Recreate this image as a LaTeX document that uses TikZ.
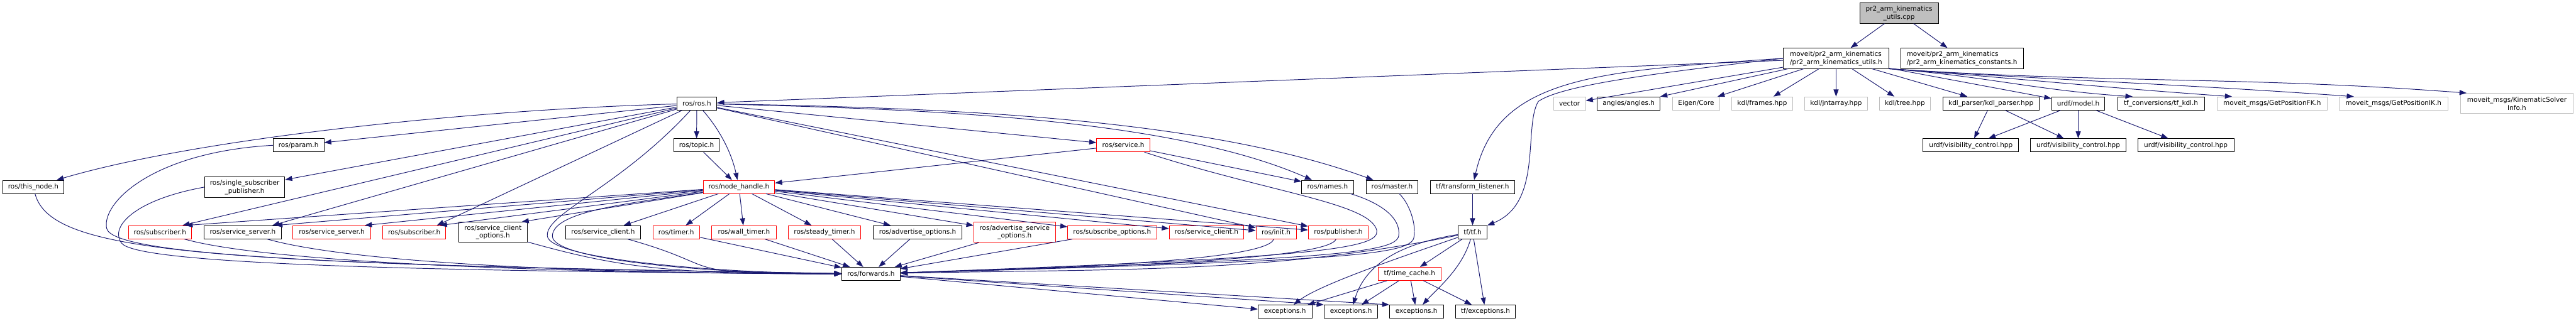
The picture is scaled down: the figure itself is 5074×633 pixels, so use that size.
\documentclass[tikz,border=0pt]{standalone}
\usepackage{fontspec}
\setmainfont{DejaVu Sans}
\usetikzlibrary{arrows.meta, calc}
\definecolor{edgeBlue}{RGB}{25,25,112}
\definecolor{truncRed}{RGB}{255,0,0}
\definecolor{extGray}{RGB}{191,191,191}
\definecolor{srcGray}{RGB}{191,191,191}
\definecolor{boxBlack}{RGB}{0,0,0}
\tikzset{
    hdr/.style={rectangle, draw=#1, fill=white, line width=1.1pt, inner sep=0pt,
                align=center, minimum height=26pt, font=\fontsize{13}{16}\selectfont},
    hdr/.default=boxBlack,
    tall/.style={minimum height=40pt},
    inc/.style={-{Triangle[length=14pt, width=10pt]}, line width=1.2pt, edgeBlue}
}

\begin{document}
\begin{tikzpicture}[x=1pt, y=-1pt]
    \useasboundingbox (0,0) rectangle (5074,633);
    % source file and the headers it includes
    \node[hdr, tall, fill=srcGray, minimum width=155pt] (cpp) at (3740.5,26) {pr2\_arm\_kinematics\\\_utils.cpp};
    \node[hdr, tall, align=left, minimum width=207pt] (utils) at (3616.5,115) {moveit/pr2\_arm\_kinematics\\/pr2\_arm\_kinematics\_utils.h};
    \node[hdr, tall, align=left, minimum width=241pt] (const) at (3864.5,115) {moveit/pr2\_arm\_kinematics\\/pr2\_arm\_kinematics\_constants.h};
    \foreach \nm/\lab/\col/\cx/\w in {
        ros/{ros/ros.h}/boxBlack/1372.5/79, vec/{vector}/extGray/3091.5/63,
        ang/{angles/angles.h}/boxBlack/3208/124, eig/{Eigen/Core}/extGray/3341/92,
        frm/{kdl/frames.hpp}/extGray/3471/120, jnt/{kdl/jntarray.hpp}/extGray/3616.5/123,
        tree/{kdl/tree.hpp}/extGray/3752/100, kdlp/{kdl\_parser/kdl\_parser.hpp}/boxBlack/3921.5/189,
        model/{urdf/model.h}/boxBlack/4093.5/105, tfkdl/{tf\_conversions/tf\_kdl.h}/boxBlack/4256.5/171,
        fk/{moveit\_msgs/GetPositionFK.h}/extGray/4475.5/217, ik/{moveit\_msgs/GetPositionIK.h}/extGray/4714.5/215} {
        \node[hdr=\col, minimum width=\w pt] (\nm) at (\cx,204) {\lab};
    }
    \node[hdr=extGray, tall, minimum width=221pt] (ksi) at (4957.5,204) {moveit\_msgs/KinematicSolver\\Info.h};
    \foreach \nm/\lab/\col/\cx/\w in {
        param/{ros/param.h}/boxBlack/588/100, topic/{ros/topic.h}/boxBlack/1372/90,
        svc/{ros/service.h}/truncRed/2212.5/105, visa/{urdf/visibility\_control.hpp}/boxBlack/3882/188,
        visb/{urdf/visibility\_control.hpp}/boxBlack/4093.5/189, visc/{urdf/visibility\_control.hpp}/boxBlack/4305.5/189} {
        \node[hdr=\col, minimum width=\w pt] (\nm) at (\cx,286.5) {\lab};
    }
    \foreach \nm/\lab/\col/\cx/\w in {
        tn/{ros/this\_node.h}/boxBlack/65.5/121, nh/{ros/node\_handle.h}/truncRed/1455.5/141,
        names/{ros/names.h}/boxBlack/2615/102, master/{ros/master.h}/boxBlack/2742/102,
        tl/{tf/transform\_listener.h}/boxBlack/2900.5/167} {
        \node[hdr=\col, minimum width=\w pt] (\nm) at (\cx,368.5) {\lab};
    }
    \node[hdr, tall, minimum width=158pt] (ssp) at (482,369) {ros/single\_subscriber\\\_publisher.h};
    \foreach \nm/\lab/\col/\cx/\w in {
        sub1/{ros/subscriber.h}/truncRed/315/124, ssb/{ros/service\_server.h}/boxBlack/478/152,
        ssr/{ros/service\_server.h}/truncRed/653.5/153, sub2/{ros/subscriber.h}/truncRed/816/124,
        scb/{ros/service\_client.h}/boxBlack/1188/148, timer/{ros/timer.h}/truncRed/1332/92,
        wall/{ros/wall\_timer.h}/truncRed/1465.5/127, steady/{ros/steady\_timer.h}/truncRed/1624/142,
        advo/{ros/advertise\_options.h}/boxBlack/1807.5/175, subo/{ros/subscribe\_options.h}/truncRed/2190.5/175,
        scr/{ros/service\_client.h}/truncRed/2376.5/147, init/{ros/init.h}/truncRed/2513.5/79,
        pub/{ros/publisher.h}/truncRed/2636/118, tf/{tf/tf.h}/boxBlack/2900.5/57} {
        \node[hdr=\col, minimum width=\w pt] (\nm) at (\cx,458) {\lab};
    }
    \node[hdr, tall, minimum width=136pt] (sco) at (971,458) {ros/service\_client\\\_options.h};
    \node[hdr=truncRed, tall, minimum width=161pt] (advso) at (1998.5,458) {ros/advertise\_service\\\_options.h};
    \node[hdr, minimum width=115pt] (fwd) at (1715.5,540) {ros/forwards.h};
    \node[hdr=truncRed, minimum width=123pt] (tc) at (2776.5,540) {tf/time\_cache.h};
    \foreach \nm/\lab/\cx/\w in {ex1/{exceptions.h}/2531/106, ex2/{exceptions.h}/2661/106,
        ex3/{exceptions.h}/2790/106, tfex/{tf/exceptions.h}/2926/118} {
        \node[hdr, minimum width=\w pt] (\nm) at (\cx,614.5) {\lab};
    }

    % includes of the source and of utils.h
    \draw[inc] (cpp) -- (utils);
    \draw[inc] (cpp) -- (const);
    \foreach \tgt in {ros,vec,ang,eig,frm,jnt,tree,kdlp,model}
        \draw[inc] (utils) -- (\tgt);
    \foreach \tgt/\dx/\ax/\ay/\bx/\by in {tfkdl/30/3910/150/4010/178, fk/30/3985/155/4130/172,
        ik/30/4080/160/4280/165, ksi/12/4160/165/4420/150}
        \draw[inc] (utils.south east) .. controls (\ax,\ay) and (\bx,\by) .. ([xshift=\dx pt]\tgt.north west);
    \draw[inc] (utils.west) .. controls (3150,140) and (2950,150) .. (tl);
    \draw[inc] (utils.west) .. controls (3300,140) and (3080,165) .. (3030,200)
        .. controls (3000,250) and (3040,400) .. (tf.north east);
    \foreach \tgt in {visa,visb}
        \draw[inc] (kdlp) -- (\tgt);
    \foreach \tgt in {visa,visb,visc}
        \draw[inc] (model) -- (\tgt);

    % ros.h
    \draw[inc] (ros) .. controls (950,215) and (400,270) .. (tn);
    \foreach \tgt in {param,ssp,topic,svc,init,pub}
        \draw[inc] (ros) -- (\tgt);
    \foreach \tgt in {sub1,sub2,ssb}
        \draw[inc] (ros) -- ([xshift=-18pt]\tgt.north east);
    \draw[inc] (ros) .. controls (1430,270) and (1445,320) .. (nh);
    \draw[inc] (ros) .. controls (1800,215) and (2300,230) .. (names);
    \draw[inc] (ros) .. controls (1800,212) and (2350,225) .. (master);
    \draw[inc] (topic) -- (nh);
    \draw[inc] (svc) -- (nh);
    \draw[inc] (svc) -- (names);

    % node_handle.h
    \foreach \tgt in {sub1,sub2,ssb,ssr,sco}
        \draw[inc] (nh) -- ([xshift=-12pt]\tgt.north east);
    \foreach \tgt in {scb,timer,wall,steady,advo,advso,subo,scr,init,pub}
        \draw[inc] (nh) -- (\tgt);

    % everything that reaches ros/forwards.h
    \draw[inc] (tn) .. controls (100,500) and (400,520) .. (fwd);
    \draw[inc] (param.west) .. controls (300,300) and (200,400) .. (210,450)
        .. controls (220,500) and (600,525) .. (fwd);
    \draw[inc] (ssp.west) .. controls (260,395) and (215,450) .. (240,480)
        .. controls (270,516) and (700,535) .. (fwd);
    \foreach \src in {sub1,ssb,sco,scb}
        \draw[inc] (\src) .. controls +(250,70) and +(-400,0) .. (fwd);
    \foreach \src in {timer,wall,steady,advo,advso,subo}
        \draw[inc] (\src) -- (fwd);
    \foreach \src in {init,pub}
        \draw[inc] (\src) .. controls +(-20,60) and +(300,-10) .. (fwd);
    \draw[inc] (ros) .. controls (1220,370) and (1075,420) .. (1078,465)
        .. controls (1081,510) and (1400,538) .. (fwd);
    \draw[inc] (nh) .. controls (1250,400) and (1090,415) .. (1088,465)
        .. controls (1086,515) and (1420,540) .. (fwd);
    \draw[inc] (svc) .. controls (2500,380) and (2700,400) .. (2712,455)
        .. controls (2716,490) and (2600,508) .. (fwd);
    \draw[inc] (names) .. controls (2720,400) and (2760,430) .. (2755,465)
        .. controls (2750,500) and (2600,512) .. (fwd);
    \draw[inc] (master) .. controls (2775,400) and (2790,440) .. (2785,468)
        .. controls (2780,505) and (2620,514) .. (fwd);
    \draw[inc] (tf) .. controls (2500,540) and (2200,530) .. (fwd);
    \draw[inc] (fwd) -- (ex1);
    \draw[inc] (fwd) -- (ex2.north west);
    \draw[inc] (fwd) -- (ex3.north west);

    % tf
    \draw[inc] (tl) -- (tf);
    \draw[inc] (tf) -- (tc);
    \draw[inc] (tf) .. controls (2780,500) and (2600,560) .. (ex1);
    \draw[inc] (tf) .. controls (2760,480) and (2690,520) .. (ex2);
    \draw[inc] (tf) .. controls (2880,530) and (2830,570) .. (ex3);
    \draw[inc] (tf) -- (tfex);
    \foreach \tgt in {ex1,ex2,ex3,tfex}
        \draw[inc] (tc) -- (\tgt);
\end{tikzpicture}
\end{document}
